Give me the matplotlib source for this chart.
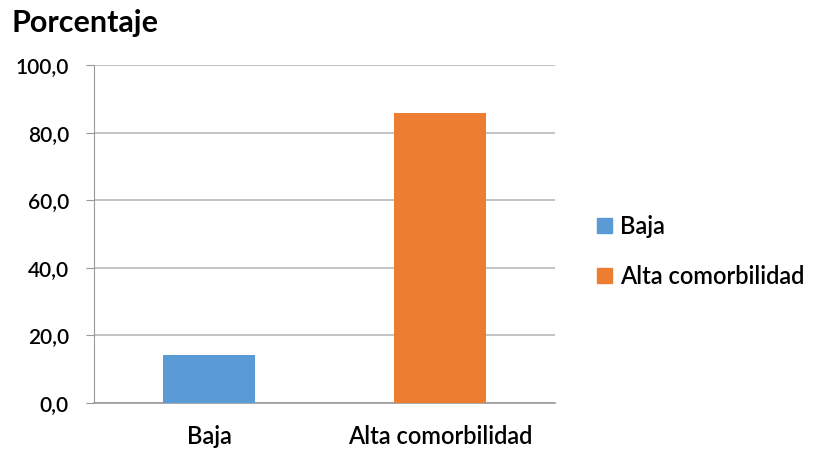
import matplotlib.pyplot as plt
from matplotlib.patches import Patch

categories = ["Baja", "Alta comorbilidad"]
porcentajes = [14.3, 85.7]
colores = ["#5B9BD5", "#ED7D31"]
ticks = [0, 20, 40, 60, 80, 100]
tick_labels = ["0,0", "20,0", "40,0", "60,0", "80,0", "100,0"]

plt.rcParams['font.family'] = ['Lato', 'DejaVu Sans']

fig = plt.figure(figsize=(8.15, 4.49), dpi=100)
ax = fig.add_axes([0.1153, 0.1024, 0.566, 0.753])

x = range(len(categories))
ax.bar(x, porcentajes, width=0.4, color=colores, zorder=3)

ax.set_xlim(-0.5, 1.5)
ax.set_ylim(0, 100)
ax.set_yticks(ticks)
ax.set_yticklabels(tick_labels, fontsize=15, fontweight='semibold')
ax.set_xticks(list(x))
ax.set_xticklabels(categories, fontsize=17, fontweight='semibold')
ax.tick_params(axis='x', length=0, pad=16)
ax.tick_params(axis='y', length=6, color='#999999', pad=12)

ax.grid(axis='y', color='#b3b3b3', linewidth=1.1, zorder=0)
for side in ['top', 'right']:
    ax.spines[side].set_visible(False)
ax.spines['left'].set_color('#999999')
ax.spines['bottom'].set_color('#999999')
ax.spines['bottom'].set_linewidth(1.2)

fig.text(0.014, 0.929, "Porcentaje", fontsize=22, fontweight='bold', va='baseline')

handles = [Patch(color=c) for c in colores]
fig.legend(handles, categories, loc='center left', bbox_to_anchor=(0.707, 0.44),
           frameon=False, prop={'size': 17, 'weight': 'semibold'},
           handlelength=0.6, handleheight=0.6, handletextpad=0.35,
           labelspacing=1.15)

fig.savefig("out.png", dpi=100)
